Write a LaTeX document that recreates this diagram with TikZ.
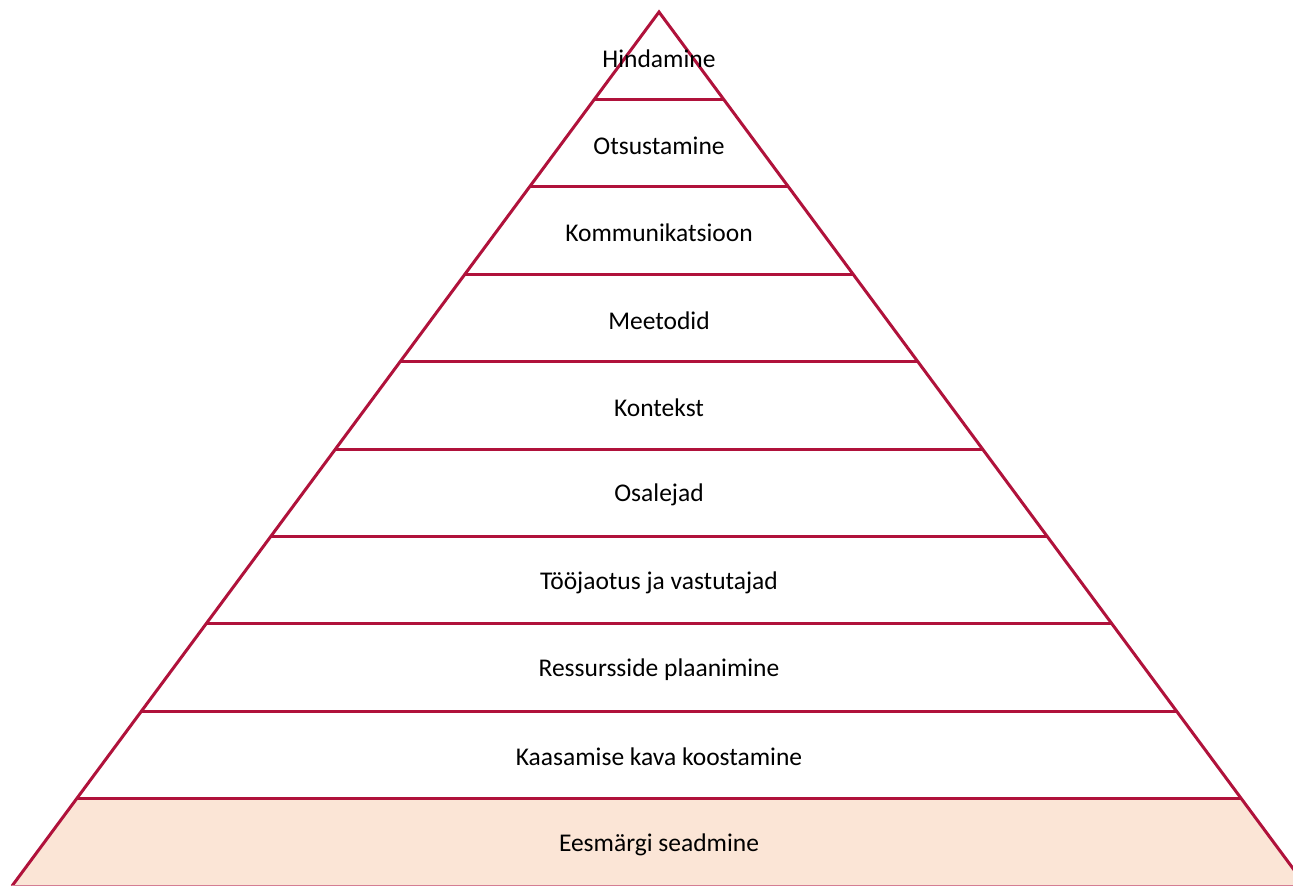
\documentclass[tikz,border=0pt]{standalone}
\usepackage{fontspec}
\setmainfont{Carlito}
\definecolor{pyrline}{HTML}{B0123B}
\definecolor{pyrfill}{HTML}{FBE5D6}
\begin{document}
\begin{tikzpicture}[x=1pt,y=-1pt,
  lvl/.style={font=\fontsize{25.5}{30}\selectfont, text=black, inner sep=0pt},
  edge/.style={draw=pyrline, line width=3pt, line join=miter}]
\useasboundingbox (0,0) rectangle (1293,886);
\clip (0,0) rectangle (1293,886);
% bottom band fill
\fill[pyrfill] (659-647*0.9,12+87.4*9) -- (659+647*0.9,12+87.4*9) -- (1306,886) -- (12,886) -- cycle;
% outline
\draw[edge] (12,886) -- (659,12) -- (1306,886);
\draw[draw=pyrline!55, line width=2pt] (12,886) -- (1306,886);
% dividers
\foreach \k in {1,...,9}{
  \draw[edge] (659-64.7*\k,12+87.4*\k) -- (659+64.7*\k,12+87.4*\k);
}
% labels
\node[lvl] (l1) at (659,59) {Hindamine};
\node[lvl] (l2) at (659,146) {Otsustamine};
\node[lvl] (l3) at (659,233) {Kommunikatsioon};
\node[lvl] (l4) at (659,321) {Meetodid};
\node[lvl] (l5) at (659,408) {Kontekst};
\node[lvl] (l6) at (659,495) {Osalejad};
\node[lvl] (l7) at (659,583) {Tööjaotus ja vastutajad};
\node[lvl] (l8) at (659,670) {Ressursside plaanimine};
\node[lvl] (l9) at (659,757) {Kaasamise kava koostamine};
\node[lvl] (l10) at (659,845) {Eesmärgi seadmine};
\end{tikzpicture}
\end{document}
